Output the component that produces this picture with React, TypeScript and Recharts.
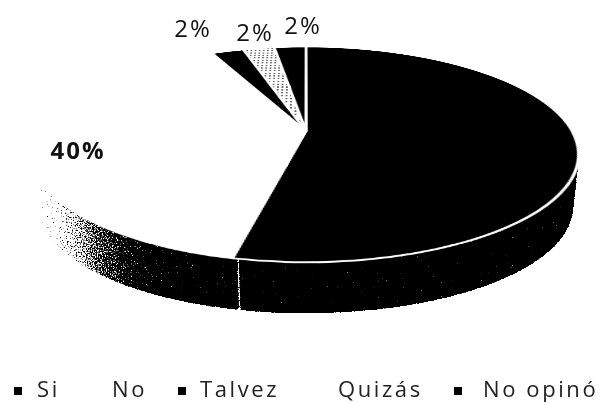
import React from 'react';
import { PieChart, Pie, Cell, Legend } from 'recharts';

const categories = ['Si', 'No', 'Talvez', 'Quizás', 'No opinó'];
const shares = [53.5, 39.6, 2.3, 2.3, 2.3];

const topFills = ['#000', '#fff', '#000', 'url(#dots)', '#000'];
const wallFills = ['#000', 'url(#fade)', '#000', '#000', '#000'];
const legendMarks = ['#000', '#fff', '#000', '#fff', '#000'];

// screen spots for the outside labels, the Si one is lost on black
const labelSpots = [null, [78, 149], [193, 27], [255, 31], [303, 24]];
const legendMarkX = [18, 112, 182, 338, 458];
const legendTextX = [37, 112, 200, 338, 483];

const data = categories.map((name, i) => ({ name, value: shares[i] }));

const W = 602;
const H = 403;
const R = 266;
const SIZE = 2 * R + 12;
const APEX_X = 306;
const APEX_Y = 131;
const DEPTH = 54;
const wallSteps = Array.from({ length: DEPTH / 2 }, (_, i) => DEPTH - i * 2);

const Disc = ({ offset, fills, stroke, pad, inner }: { offset: number; fills: string[]; stroke: number; pad: number; inner: number }) => (
  <div
    style={{
      position: 'absolute',
      left: APEX_X - SIZE / 2,
      top: APEX_Y - SIZE / 2 + offset,
      width: SIZE,
      height: SIZE,
      // lower layers shrink a little so the wall tucks in at the sides
      transform: `scale(${1 - offset * 0.0004}) perspective(1121px) rotateX(67.35deg)`,
    }}
  >
    <PieChart width={SIZE} height={SIZE} margin={{ top: 0, right: 0, bottom: 0, left: 0 }}>
      <defs>
        <linearGradient id="fade" x1="0" y1="0" x2="1" y2="0">
          <stop offset="0" stopColor="#d8d8d8" />
          <stop offset="0.25" stopColor="#a4a4a4" />
          <stop offset="0.42" stopColor="#5c5c5c" />
          <stop offset="0.6" stopColor="#222" />
          <stop offset="0.75" stopColor="#0a0a0a" />
          <stop offset="1" stopColor="#000" />
        </linearGradient>
        <pattern id="dots" width="5" height="9" patternUnits="userSpaceOnUse">
          <rect width="5" height="9" fill="#fff" />
          <rect width="2" height="4" fill="#666" />
        </pattern>
      </defs>
      <Pie
        data={data}
        dataKey="value"
        cx="50%"
        cy="50%"
        innerRadius={inner}
        outerRadius={R}
        startAngle={90}
        endAngle={-270}
        paddingAngle={pad}
        stroke={stroke ? '#fff' : 'none'}
        strokeWidth={stroke}
        isAnimationActive={false}
      >
        {fills.map((f, i) => (
          <Cell key={i} fill={f} />
        ))}
      </Pie>
    </PieChart>
  </div>
);

const renderLabel = (p: any) => {
  const spot = labelSpots[p.index];
  if (!spot) return null;
  return (
    <text
      x={spot[0]}
      y={spot[1]}
      textAnchor="middle"
      dominantBaseline="central"
      fontFamily="Open Sans"
      fontSize={24}
      letterSpacing={2}
      fontWeight={p.index === 1 ? 700 : 400}
      fill="#111"
    >
      {Math.round(p.value)}%
    </text>
  );
};

const renderLegend = () => (
  <div style={{ position: 'relative', width: W, height: 26, lineHeight: '26px', fontFamily: 'Open Sans', fontSize: 22, color: '#222' }}>
    {categories.map((c, i) => (
      <React.Fragment key={c}>
        <span
          style={{
            position: 'absolute',
            left: legendMarkX[i] - 4,
            top: 12,
            width: 8,
            height: 8,
            background: legendMarks[i],
          }}
        />
        <span style={{ position: 'absolute', left: legendTextX[i], top: 0, whiteSpace: 'nowrap', letterSpacing: 2.6 }}>
          {c}
        </span>
      </React.Fragment>
    ))}
  </div>
);

export default function App() {
  return (
    <div style={{ position: 'fixed', left: 0, top: 0, width: W, height: H, overflow: 'hidden', background: '#fff' }}>
      {/* turns the wall's smooth fade into the scanned speckle */}
      <svg width={0} height={0} style={{ position: 'absolute' }}>
        <filter id="grain" x="0" y="0" width="100%" height="100%" colorInterpolationFilters="sRGB">
          <feTurbulence type="fractalNoise" baseFrequency="0.8" numOctaves={2} seed={4} result="n" />
          <feColorMatrix
            in="n"
            type="matrix"
            values="1 0 0 0 0  1 0 0 0 0  1 0 0 0 0  0 0 0 0 1"
            result="g"
          />
          <feComposite in="SourceGraphic" in2="g" operator="arithmetic" k1={0} k2={1} k3={1.2} k4={-0.6} />
          <feComponentTransfer>
            <feFuncR type="linear" slope={6} intercept={-2} />
            <feFuncG type="linear" slope={6} intercept={-2} />
            <feFuncB type="linear" slope={6} intercept={-2} />
            <feFuncA type="linear" slope={0} intercept={1} />
          </feComponentTransfer>
        </filter>
      </svg>
      <div style={{ position: 'absolute', left: 0, top: 0, width: W, height: H, background: '#fff', filter: 'url(#grain)' }}>
        {/* thin rings, so the gap between slices stays open all the way down the wall */}
        {wallSteps.map((d) => (
          <Disc key={d} offset={d} fills={wallFills} stroke={0} pad={0.4} inner={R - 6} />
        ))}
      </div>
      <Disc offset={0} fills={topFills} stroke={3} pad={0} inner={0} />
      <div style={{ position: 'absolute', left: 0, top: 0 }}>
        <PieChart width={W} height={H} margin={{ top: 0, right: 0, bottom: 0, left: 0 }}>
          <Pie
            data={data}
            dataKey="value"
            cx={APEX_X}
            cy={APEX_Y}
            outerRadius={1}
            fill="none"
            stroke="none"
            label={renderLabel}
            labelLine={false}
            isAnimationActive={false}
          />
          <Legend content={renderLegend} wrapperStyle={{ left: 0, top: 375, bottom: 'auto', width: W }} />
        </PieChart>
      </div>
    </div>
  );
}
